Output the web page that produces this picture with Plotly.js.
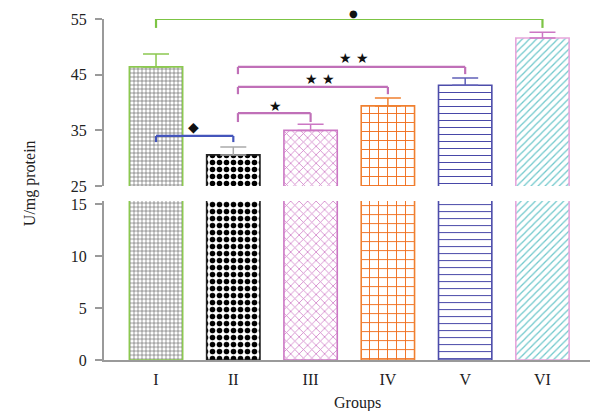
<!DOCTYPE html>
<html>
<head>
<meta charset="utf-8">
<script src="https://cdn.plot.ly/plotly-3.0.1.min.js"></script>
<style>html,body{margin:0;padding:0;background:#fff;}#chart{width:590px;height:411px;}</style>
</head>
<body>
<div id="chart"></div>
<script>
// ---- data ----
const groups = ['I', 'II', 'III', 'IV', 'V', 'VI'];
const means = [46.4, 30.6, 35.0, 39.4, 43.1, 51.6];
const sems = [2.3, 1.4, 1.1, 1.4, 1.3, 1.0];
const lowerTicks = [0, 5, 10, 15];
const upperTicks = [25, 35, 45, 55];
// significance brackets: from group index, to group index, level, drop level, symbol
const bracketFrom = [0, 0, 1, 1, 1];
const bracketTo = [5, 1, 2, 3, 4];
const bracketLevel = [55.0, 34.0, 38.1, 42.8, 46.4];
const bracketDrop = [53.4, 32.9, 36.5, 41.5, 45.1];
const bracketSymbol = ['●', '◆', '★', '★ ★', '★ ★'];

// ---- styles ----
const outline = ['#8cc850', '#222222', '#cc77c4', '#f08030', '#4c4caa', '#e8a6dc'];
const capColor = ['#8cc850', '#aaaaaa', '#cc77c4', '#f08030', '#6060b8', '#cc77c4'];
const patShape = ['+', '.', 'x', '+', '-', '/'];
const patFg = ['#666666', '#000000', '#d080c8', '#f07020', '#4848a8', '#70c8cc'];
const patSize = [4, 7, 6, 9, 7, 5];
const patSolid = [0.3, 0.5, 0.25, 0.2, 0.15, 0.25];
const bracketColor = ['#7cc444', '#4455bb', '#c070b8', '#c070b8', '#c070b8'];
const serif = 'Liberation Serif, Times New Roman, serif';

const traces = [];
groups.forEach((g, i) => {
  const marker = {
    color: 'rgba(255,255,255,0)',
    line: {color: outline[i], width: 1.6},
    pattern: {shape: patShape[i], fgcolor: patFg[i], bgcolor: '#ffffff', size: patSize[i], solidity: patSolid[i], fillmode: 'replace'}
  };
  traces.push({type: 'bar', x: [g], y: [means[i]], xaxis: 'x', yaxis: 'y', width: 0.69,
    marker: marker, showlegend: false, hoverinfo: 'skip'});
  traces.push({type: 'bar', x: [g], y: [means[i]], xaxis: 'x', yaxis: 'y2', width: 0.69,
    marker: marker, showlegend: false, hoverinfo: 'skip',
    error_y: {type: 'data', symmetric: false, array: [sems[i]], arrayminus: [0],
      color: capColor[i], thickness: 1.5, width: 13}});
});

const shapes = [];
const annotations = [];
bracketFrom.forEach((f, k) => {
  const t = bracketTo[k];
  const x0 = f + (f === 1 ? 0.06 : 0);
  const x1 = t;
  const c = bracketColor[k];
  const ln = {color: c, width: 2.2};
  shapes.push({type: 'line', xref: 'x', yref: 'y2', x0: x0, x1: x0, y0: bracketDrop[k], y1: bracketLevel[k], line: ln});
  shapes.push({type: 'line', xref: 'x', yref: 'y2', x0: x0, x1: x1, y0: bracketLevel[k], y1: bracketLevel[k], line: ln});
  shapes.push({type: 'line', xref: 'x', yref: 'y2', x0: x1, x1: x1, y0: bracketLevel[k], y1: bracketDrop[k], line: ln});
});
// symbol labels (placed at bracket level, shifted up in pixels)
const symX = [2.55, 0.48, 1.55, 2.12, 2.56];
const symShift = [6, 9, 7, 8, 9];
const symSize = [10, 14, 14, 14, 14];
bracketSymbol.forEach((s, k) => {
  annotations.push({xref: 'x', yref: 'y2', x: symX[k], y: bracketLevel[k], yshift: symShift[k], text: s, showarrow: false,
    font: {family: 'DejaVu Sans', size: symSize[k], color: '#111'}});
});
annotations.push({xref: 'paper', yref: 'paper', x: -0.152, y: 0.519, xanchor: 'center', yanchor: 'middle',
  text: 'U/mg protein', textangle: -90,
  showarrow: false, font: {family: serif, size: 16, color: '#222'}});
annotations.push({xref: 'paper', yref: 'paper', x: 0.521, y: -0.126, xanchor: 'center', yanchor: 'middle',
  text: 'Groups', showarrow: false, font: {family: serif, size: 16, color: '#222'}});

const axisStyle = {showline: true, linecolor: '#9a9a9a', linewidth: 2, ticks: 'outside', ticklen: 7,
  tickcolor: '#9a9a9a', tickwidth: 2, showgrid: false, zeroline: false, ticklabelstandoff: 5,
  tickfont: {family: serif, size: 16, color: '#222'}};

const layout = {
  width: 590, height: 411,
  margin: {l: 104, r: 0, t: 19, b: 51},
  paper_bgcolor: '#ffffff', plot_bgcolor: '#ffffff',
  barmode: 'overlay',
  xaxis: {type: 'category', categoryorder: 'array', categoryarray: groups, range: [-0.673, 5.615],
    showline: true, linecolor: '#9a9a9a', linewidth: 2, ticks: '', showgrid: false, zeroline: false,
    ticklabelstandoff: 4,
    tickfont: {family: serif, size: 16, color: '#222'}, anchor: 'y'},
  yaxis: Object.assign({}, axisStyle, {domain: [0, 0.466], range: [0, 15.3], tickvals: lowerTicks, anchor: 'x'}),
  yaxis2: Object.assign({}, axisStyle, {domain: [0.51, 1], range: [25, 55], tickvals: upperTicks, anchor: 'x'}),
  shapes: shapes,
  annotations: annotations
};

Plotly.newPlot('chart', traces, layout, {displayModeBar: false, staticPlot: true});
</script>
</body>
</html>
